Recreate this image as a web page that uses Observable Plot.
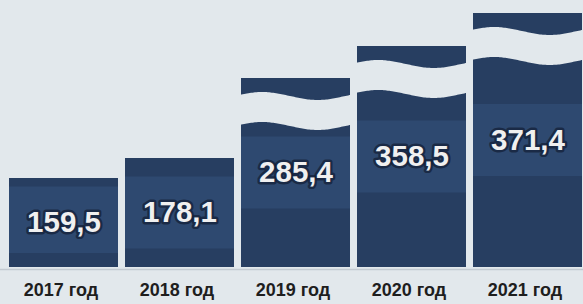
<!DOCTYPE html>
<html>
<head>
<meta charset="utf-8">
<script src="https://cdn.jsdelivr.net/npm/d3@7"></script>
<script src="https://cdn.jsdelivr.net/npm/@observablehq/plot@0.6"></script>
<style>
  html, body { margin: 0; padding: 0; background: #e2e8ec; }
  #chart { width: 583px; height: 304px; overflow: hidden; }
</style>
</head>
<body>
<div id="chart"></div>
<script>
// ---- data ----
const years = ["2017 год", "2018 год", "2019 год", "2020 год", "2021 год"];
const values = [159.5, 178.1, 285.4, 358.5, 371.4];
const valueLabels = ["159,5", "178,1", "285,4", "358,5", "371,4"];
const broken = [false, false, true, true, true];

const data = years.map((year, i) => ({year, value: values[i], label: valueLabels[i], broken: broken[i]}));

// ---- styling ----
const BG = "#e2e8ec";
const DARK = "#273e61";
const LIGHT = "#2e4970";
const W = 583, H = 304;

// broken (piecewise) value axis, as in the picture
const yOpts = {type: "linear", domain: [0, ...values], range: [267, 178, 158, 78, 46, 13]};
const xOpts = {domain: years, range: [9, 585.5], paddingInner: 0.062, paddingOuter: 0, align: 0};
const yS = Plot.scale({y: yOpts});
const base = yS.apply(0);

data.forEach(d => {
  const top = yS.apply(d.value);
  const mid = (top + base) / 2;
  d.mid = yS.invert(mid);
  d.lightTop = yS.invert(Math.max(mid - 36, top + 6));
  d.lightBot = yS.invert(Math.min(mid + 36, base - 14));
});

const chart = Plot.plot({
  width: W,
  height: H,
  marginTop: 0,
  marginLeft: 0,
  marginRight: 0,
  marginBottom: 37,
  style: {background: BG, fontFamily: "'Liberation Sans', Arial, sans-serif", overflow: "hidden"},
  x: {...xOpts, axis: null},
  y: {...yOpts, axis: null},
  marks: [
    Plot.ruleY([0], {stroke: "#c3cad1", strokeWidth: 1.5, dy: 2}),
    Plot.barY(data, {x: "year", y: "value", fill: DARK, inset: 0}),
    Plot.barY(data, {x: "year", y1: "lightBot", y2: "lightTop", fill: LIGHT, inset: 0}),
    Plot.text(data, {
      x: "year", y: "mid", text: "label",
      fill: "#f0f0f0", stroke: "#121d33", strokeWidth: 5, strokeOpacity: 0.7,
      fontSize: 29.5, fontWeight: "bold"
    }),
    Plot.axisX({tickSize: 0, tickPadding: 16, fontSize: 18, fontWeight: "bold", color: "#1e1e1e", dx: -3, label: null})
  ]
});

// wavy breaks on the broken bars, positioned with the plot's own scales
const xs = chart.scale("x");
const svg = d3.select(chart);
const bw = xs.bandwidth;
const wave = t => -4 * Math.sin(2 * Math.PI * (t + 0.05));
data.filter(d => d.broken).forEach(d => {
  const x0 = xs.apply(d.year) - 1;
  const c = yS.apply(d.value) + 33;
  const ts = d3.range(0, 1.0001, 0.025);
  const topEdge = ts.map(t => [x0 + t * (bw + 2), c - 15 + wave(t)]);
  const botEdge = ts.slice().reverse().map(t => [x0 + t * (bw + 2), c + 15 + wave(t)]);
  svg.append("path")
    .attr("d", d3.line().curve(d3.curveBasis)(topEdge) + "L" + d3.line().curve(d3.curveBasis)(botEdge).slice(1) + "Z")
    .attr("fill", BG);
});

document.getElementById("chart").appendChild(chart);
</script>
</body>
</html>
